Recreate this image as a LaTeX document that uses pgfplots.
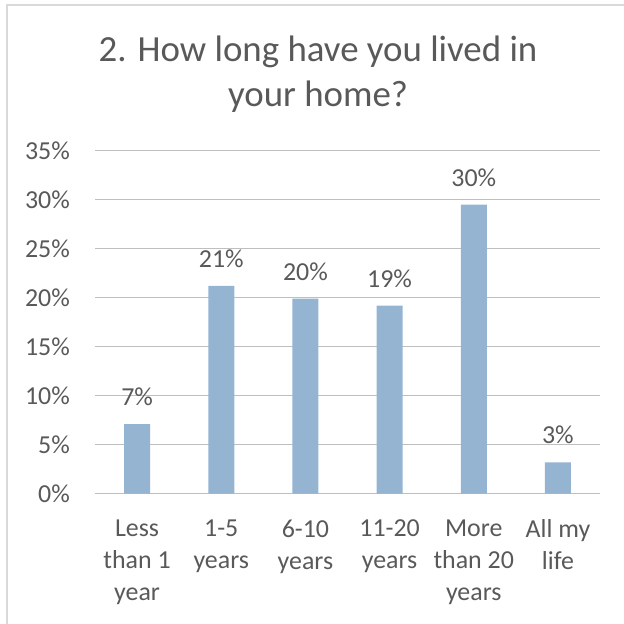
\documentclass[border=0pt]{standalone}
\usepackage{pgfplots}
\pgfplotsset{compat=1.18}
\usepackage{pgfplotstable}
\usepackage{fontspec}
\setmainfont{Carlito}
\definecolor{txt}{HTML}{595959}
\definecolor{grid}{HTML}{D9D9D9}
\definecolor{bar}{RGB}{148,180,210}

\pgfplotstableread{
x y lab
0 7.1 7
1 21.2 21
2 19.9 20
3 19.2 19
4 29.5 30
5 3.2 3
}\homedata

\begin{document}
\begin{tikzpicture}[x=1bp,y=1bp]
  \draw[grid, line width=1.5bp] (7,-624) -- (7,-5) -- (624,-5);
  \node[anchor=base, text=txt, font=\fontsize{37}{44}\selectfont] at (318,-62) {2. How long have you lived in};
  \node[anchor=base, text=txt, font=\fontsize{37}{44}\selectfont] at (318,-107) {your home?};
  \begin{axis}[
      anchor=south west, at={(95bp,-493.7bp)},
      scale only axis,
      width=505bp, height=343bp,
      xmin=-0.5, xmax=5.5,
      ymin=0, ymax=35,
      ytick={0,5,...,35},
      xtick=data,
      xticklabels={Less\\than 1\\year, 1-5\\years, 6-10\\years, 11-20\\years, More\\than 20\\years, All my\\life},
      yticklabel={\pgfmathprintnumber{\tick}\%},
      /pgf/number format/assume math mode=true,
      axis line style={draw=none},
      xmajorgrids=false,
      ymajorgrids=true,
      grid style={grid, line width=1.2bp},
      major tick length=0pt,
      tick style={draw=none},
      ticklabel style={text=txt, font=\fontsize{26}{32}\selectfont},
      yticklabel style={anchor=east, inner sep=0pt, xshift=-25bp},
      xticklabel style={align=center, anchor=north, inner sep=0pt, yshift=-26bp},
      ybar, bar width=26bp,
      nodes near coords={\pgfmathprintnumber{\pgfplotspointmeta}\%},
      point meta=explicit,
      every node near coord/.append style={text=txt, font=\fontsize{26}{30}\selectfont, anchor=south, inner sep=0pt, yshift=18bp},
    ]
    \addplot[fill=bar, draw=none] table[x=x, y=y, meta=lab] {\homedata};
  \end{axis}
  \pgfresetboundingbox
  \path[use as bounding box] (0,0) rectangle (624,-624);
\end{tikzpicture}
\end{document}
